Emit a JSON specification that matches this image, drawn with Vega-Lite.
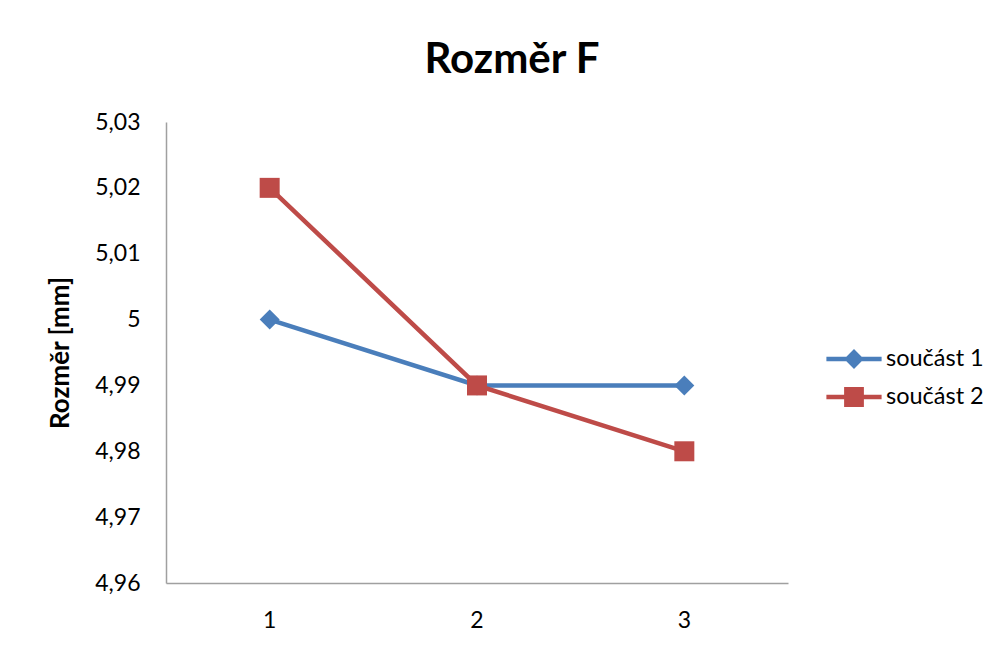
{
  "$schema": "https://vega.github.io/schema/vega-lite/v6.json",
  "autosize": {"type": "none"},
  "width": 622,
  "height": 461,
  "padding": {"left": 166, "top": 122, "right": 214, "bottom": 79},
  "background": "white",
  "title": {
    "text": "Rozměr F",
    "font": "Lato",
    "fontSize": 42,
    "fontWeight": "bold",
    "color": "#000000",
    "anchor": "middle",
    "frame": "group",
    "dx": 35,
    "baseline": "alphabetic",
    "offset": -4
  },
  "data": {
    "values": [
      {"k": "1", "series": "součást 1", "v": 5.00},
      {"k": "2", "series": "součást 1", "v": 4.99},
      {"k": "3", "series": "součást 1", "v": 4.99},
      {"k": "1", "series": "součást 2", "v": 5.02},
      {"k": "2", "series": "součást 2", "v": 4.99},
      {"k": "3", "series": "součást 2", "v": 4.98}
    ]
  },
  "encoding": {
    "x": {
      "field": "k",
      "type": "ordinal",
      "scale": {"type": "band", "paddingInner": 0, "paddingOuter": 0},
      "axis": {
        "title": null,
        "labelAngle": 0,
        "ticks": false,
        "grid": false,
        "domainColor": "#a0a0a0",
        "domainWidth": 1.5,
        "labelFont": "Lato",
        "labelFontSize": 23,
        "labelColor": "#000000",
        "labelPadding": 26
      }
    },
    "y": {
      "field": "v",
      "type": "quantitative",
      "scale": {"domain": [4.96, 5.03], "nice": false, "zero": false},
      "axis": {
        "title": "Rozměr [mm]",
        "titleFont": "Lato",
        "titleFontSize": 26,
        "titleFontWeight": "bold",
        "titleColor": "#000000",
        "titlePadding": 21,
        "values": [4.96, 4.97, 4.98, 4.99, 5.0, 5.01, 5.02, 5.03],
        "labelExpr": "replace(format(datum.value, '.3~r'), '.', ',')",
        "ticks": false,
        "grid": false,
        "domainColor": "#a0a0a0",
        "domainWidth": 1.5,
        "labelFont": "Lato",
        "labelFontSize": 23,
        "labelColor": "#000000",
        "labelPadding": 26
      }
    },
    "color": {
      "field": "series",
      "type": "nominal",
      "scale": {"domain": ["součást 1", "součást 2"], "range": ["#4A7EBB", "#BE4B48"]},
      "legend": {
        "title": null,
        "orient": "none",
        "legendX": 665,
        "legendY": 214,
        "padding": 0,
        "rowPadding": 3,
        "symbolSize": 2116,
        "symbolType": "M-1.2,-0.095L1.2,-0.095L1.2,0.095L-1.2,0.095Z",
        "symbolStrokeWidth": 0,
        "symbolOpacity": 1,
        "labelOffset": 9,
        "labelFont": "Lato",
        "labelFontSize": 23.5,
        "labelColor": "#000000",
        "encode": {
          "symbols": {
            "update": {
              "shape": {"signal": "datum.index === 0 ? 'M-1.2,-0.095L1.2,-0.095L1.2,0.095L-1.2,0.095Z M0,-0.43L0.43,0L0,0.43L-0.43,0Z' : 'M-1.2,-0.095L1.2,-0.095L1.2,0.095L-1.2,0.095Z M-0.43,-0.43L0.43,-0.43L0.43,0.43L-0.43,0.43Z'"},
              "strokeWidth": {"value": 0}
            }
          }
        }
      }
    }
  },
  "layer": [
    {
      "mark": {"type": "line", "strokeWidth": 4.5}
    },
    {
      "transform": [{"filter": "datum.series === 'součást 1'"}],
      "mark": {"type": "point", "filled": true, "opacity": 1, "size": 400, "shape": "diamond"}
    },
    {
      "transform": [{"filter": "datum.series === 'součást 2'"}],
      "mark": {"type": "point", "filled": true, "opacity": 1, "size": 400, "shape": "square"}
    }
  ],
  "config": {
    "view": {"stroke": null}
  }
}
